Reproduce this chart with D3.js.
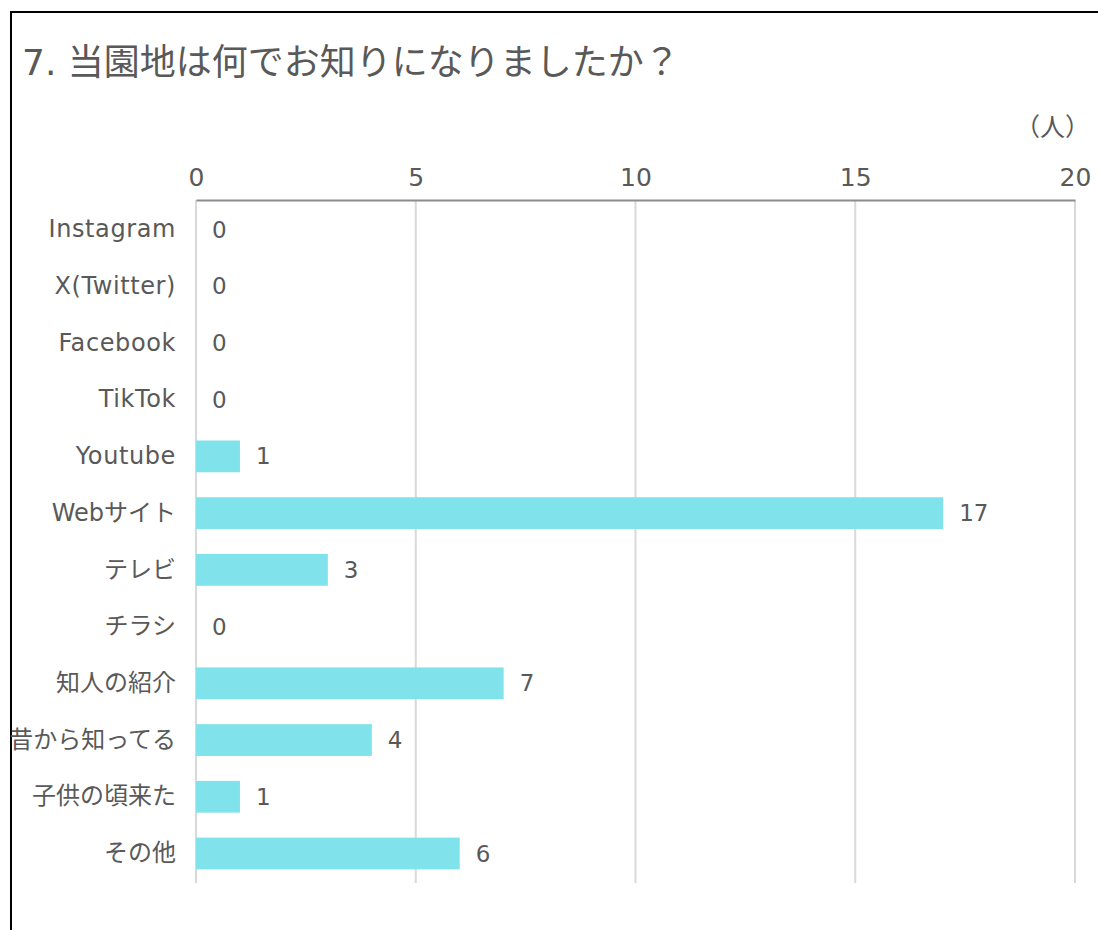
<!DOCTYPE html>
<html>
<head>
<meta charset="utf-8">
<script src="https://cdn.jsdelivr.net/npm/d3@7"></script>
<style>
  body { margin: 0; background: #fff; }
  text { font-family: "DejaVu Sans", "Noto Sans CJK JP", sans-serif; fill: #595959; }
</style>
</head>
<body>
<svg id="chart"></svg>
<script>
// data
var categories = ["Instagram", "X(Twitter)", "Facebook", "TikTok", "Youtube", "Webサイト",
                  "テレビ", "チラシ", "知人の紹介", "昔から知ってる", "子供の頃来た", "その他"];
var counts = [0, 0, 0, 0, 1, 17, 3, 0, 7, 4, 1, 6];
var xTicks = [0, 5, 10, 15, 20];
var title = "7. 当園地は何でお知りになりましたか？";
var unitLabel = "（人）";

var w = 1098, h = 930;
var plotLeft = 196, plotRight = 1075, plotTop = 200, plotBottom = 883;

var svg = d3.select("#chart")
    .attr("width", w)
    .attr("height", h);

// frame
svg.append("rect")
    .attr("x", 11).attr("y", 12)
    .attr("width", w + 20).attr("height", h + 20)
    .attr("fill", "none")
    .attr("stroke", "#000")
    .attr("stroke-width", 2);

var xScale = d3.scaleLinear().domain([0, 20]).range([plotLeft, plotRight]);
var yScale = d3.scaleBand().domain(categories).range([plotTop, plotBottom]).paddingInner(0.44).paddingOuter(0.24);

// gridlines
svg.append("g")
    .selectAll("line")
    .data(xTicks)
    .enter()
    .append("line")
    .attr("x1", function(d) { return xScale(d); })
    .attr("x2", function(d) { return xScale(d); })
    .attr("y1", plotTop)
    .attr("y2", plotBottom)
    .attr("stroke", "#d9d9d9")
    .attr("stroke-width", 2);

// top axis
var xAxis = d3.axisTop(xScale).tickValues(xTicks).tickSize(0).tickPadding(14);
var gx = svg.append("g")
    .attr("transform", "translate(0," + plotTop + ")")
    .call(xAxis);
gx.select(".domain").attr("stroke", "#8c8c8c").attr("stroke-width", 2);
gx.selectAll("text")
    .style("font-size", "25px")
    .attr("fill", "#595959")
    .style("font-family", "'DejaVu Sans', sans-serif");

// category axis
var yAxis = d3.axisLeft(yScale).tickSize(0).tickPadding(20);
var gy = svg.append("g")
    .attr("transform", "translate(" + plotLeft + ",0)")
    .call(yAxis);
gy.select(".domain").remove();
gy.selectAll("text")
    .style("font-size", "24px")
    // latin-only labels are a bit wider in the original
    .style("letter-spacing", function(d) { return /^[\x00-\x7f]+$/.test(d) ? "0.6px" : "0px"; })
    .style("font-family", "'DejaVu Sans', 'Noto Sans CJK JP', sans-serif")
    .attr("fill", "#595959");

// bars
svg.selectAll("rect.bar")
    .data(counts)
    .enter()
    .append("rect")
    .attr("class", "bar")
    .attr("x", xScale(0))
    .attr("y", function(d, i) { return yScale(categories[i]); })
    .attr("width", function(d) { return xScale(d) - xScale(0); })
    .attr("height", yScale.bandwidth())
    .attr("fill", "#80e2ea");

// value labels
svg.selectAll("text.val")
    .data(counts)
    .enter()
    .append("text")
    .attr("class", "val")
    .attr("x", function(d) { return xScale(d) + 16; })
    .attr("y", function(d, i) { return yScale(categories[i]) + yScale.bandwidth() / 2; })
    .attr("dy", "0.35em")
    .style("font-size", "23px")
    .text(function(d) { return d; });

// title
svg.append("text")
    .attr("x", 22)
    .attr("y", 75)
    .style("font-size", "36px")
    .text(title);

// unit
svg.append("text")
    .attr("x", 1090)
    .attr("y", 136)
    .attr("text-anchor", "end")
    .style("font-size", "25px")
    .text(unitLabel);
</script>
</body>
</html>
